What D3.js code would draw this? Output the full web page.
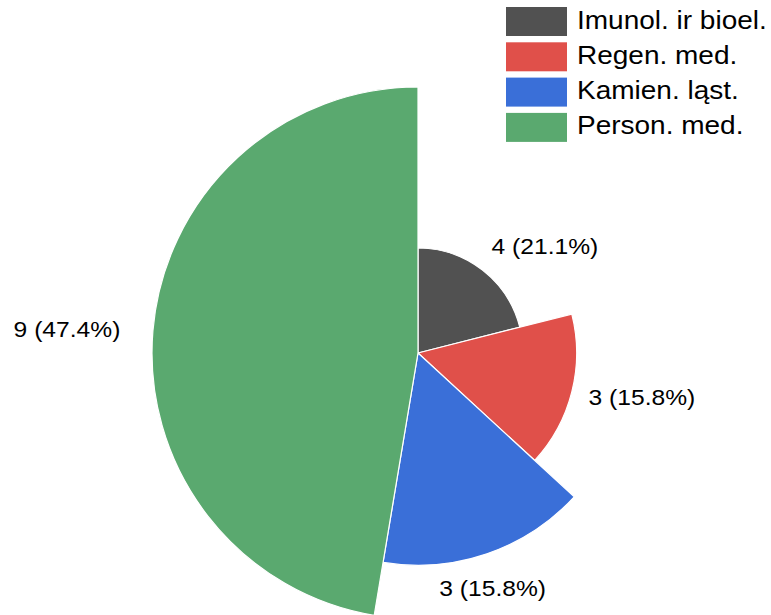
<!DOCTYPE html>
<html>
<head>
<meta charset="utf-8">
<script src="https://cdnjs.cloudflare.com/ajax/libs/d3/7.8.5/d3.min.js"></script>
<style>
  html, body { margin: 0; padding: 0; background: #fff; }
  text { font-family: "Liberation Sans", Arial, sans-serif; fill: #000; }
</style>
</head>
<body>
<div id="chart"></div>
<script>
// data
const categories = ['Imunol. ir bioel.', 'Regen. med.', 'Kamien. ląst.', 'Person. med.'];
const counts = [4, 3, 3, 9];
const colors = ['#515151', '#e0504a', '#3a6fd8', '#5aa96f'];

// layout tweaks for value labels (dx, dy from the default spot)
const labelNudge = [[44, 0], [41, -2], [-4, 6], [-56, 0]];

const W = 771, H = 615;
const cx = 418, cy = 353;
const stretch = 1.12; // text in the reference is a little wide

const svg = d3.select('#chart').append('svg')
    .attr('width', W)
    .attr('height', H);

const total = d3.sum(counts);
const rows = categories.map((c, i) => ({ name: c, value: counts[i], color: colors[i], idx: i }));

const pie = d3.pie().sort(null).value(d => d.value);
const arcs = pie(rows);

// each slice gets a bigger radius than the one before
const rScale = d3.scaleLinear().domain([0, categories.length - 1]).range([105, 266]);

const g = svg.append('g').attr('transform', `translate(${cx},${cy})`);

g.selectAll('path')
    .data(arcs)
    .join('path')
    .attr('d', d => d3.arc().innerRadius(0).outerRadius(rScale(d.data.idx))(d))
    .attr('fill', d => d.data.color)
    .attr('stroke', '#fff')
    .attr('stroke-width', 1.2)
    .attr('stroke-linejoin', 'round');

// value labels
const fmt = d3.format('.1f');
g.selectAll('text.val')
    .data(arcs)
    .join('text')
    .attr('class', 'val')
    .attr('text-anchor', 'middle')
    .attr('font-size', '22px')
    .attr('transform', d => {
        const a = (d.startAngle + d.endAngle) / 2;
        const r = rScale(d.data.idx) + 30;
        const n = labelNudge[d.data.idx];
        const x = r * Math.sin(a) + n[0];
        const y = -r * Math.cos(a) + 8 + n[1];
        return `translate(${x},${y}) scale(${stretch},1)`;
    })
    .text(d => `${d.data.value} (${fmt(d.data.value / total * 100)}%)`);

// legend
const legend = svg.append('g').attr('transform', 'translate(506,7)');
const item = legend.selectAll('g')
    .data(rows)
    .join('g')
    .attr('transform', (d, i) => `translate(0,${i * 35.3})`);

item.append('rect')
    .attr('width', 61)
    .attr('height', 29)
    .attr('fill', d => d.color);

item.append('text')
    .attr('font-size', '25px')
    .attr('transform', `translate(71,21.5) scale(${stretch},1)`)
    .text(d => d.name);
</script>
</body>
</html>
